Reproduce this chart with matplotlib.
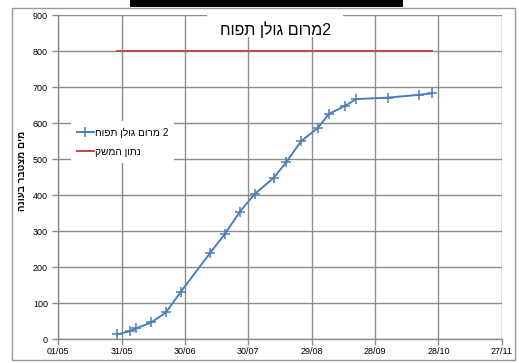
import datetime as dt
import matplotlib
matplotlib.use("Agg")
import matplotlib.pyplot as plt
import matplotlib.dates as mdates
from matplotlib.patches import Rectangle

plt.rcParams['font.family'] = ['Liberation Sans', 'DejaVu Sans']


def heb(s):
    # matplotlib lays glyphs out left to right, so hebrew strings go in reversed
    return s[::-1]


# weekly readings (day/month)
days = ["29/05", "04/06", "07/06", "14/06", "21/06", "28/06", "12/07", "19/07",
        "26/07", "02/08", "11/08", "17/08", "24/08", "01/09", "06/09", "14/09",
        "19/09", "04/10", "19/10", "25/10"]
water = [13, 22, 30, 46, 74, 131, 240, 293, 354, 403, 448, 492, 550, 587,
         625, 649, 667, 671, 679, 683]
farm_value = 800

title = "2מרום גולן תפוח"
series_name = "2 מרום גולן תפוח"
farm_name = "נתון המשק"
ylab = "מים מצטבר בעונה"

year = 2014
dates = [dt.datetime.strptime(d + "/%d" % year, "%d/%m/%Y") for d in days]
start = dt.datetime(year, 5, 1)
ticks = [start + dt.timedelta(days=30 * i) for i in range(8)]

blue = "#4A7EBB"
red = "#BE4B48"
grid = "#8C8C8C"

fig = plt.figure(figsize=(5.19, 3.63), dpi=100)
ax = fig.add_axes([0.1123, 0.0661, 0.8544, 0.8918])

ax.plot(dates, water, color=blue, lw=1.4, marker="+", ms=7, mew=1.1,
        label=heb(series_name), zorder=3)
ax.plot([dates[0], dates[-1]], [farm_value, farm_value], color=red, lw=1.4,
        label=heb(farm_name), zorder=3)

ax.set_xlim(ticks[0], ticks[-1])
ax.set_ylim(0, 900)
ax.set_xticks(ticks)
ax.xaxis.set_major_formatter(mdates.DateFormatter("%d/%m"))
ax.set_yticks(range(0, 901, 100))
ax.grid(True, color=grid, lw=1)
ax.set_axisbelow(True)
for side in ["top", "right"]:
    ax.spines[side].set_visible(False)
for side in ["left", "bottom"]:
    ax.spines[side].set_color(grid)
    ax.spines[side].set_linewidth(1)
ax.tick_params(colors=grid, labelcolor="black", labelsize=6.5, length=4, width=1)
ax.tick_params(axis="x", pad=2)

ax.set_ylabel(heb(ylab), fontsize=7, fontweight="bold", va="center")
ax.yaxis.set_label_coords(-0.082, 0.52)

# title sits on a white patch over the gridlines
ax.add_patch(Rectangle((0.335, 0.933), 0.307, 0.08, transform=ax.transAxes,
                       facecolor="white", edgecolor="none", zorder=4, clip_on=False))
ax.text(0.489, 0.956, heb(title), transform=ax.transAxes, ha="center", va="center",
        fontsize=11.5, zorder=5)

leg = ax.legend(loc="upper left", bbox_to_anchor=(0.028, 0.672), fontsize=7.3,
                frameon=True, fancybox=False, framealpha=1, edgecolor="none",
                handlelength=1.7, handletextpad=0.1, borderpad=0.6,
                labelspacing=0.9, borderaxespad=0)
leg.get_frame().set_facecolor("white")

# chart frame and the dark strip above it
fig.patches.append(Rectangle((12 / 519, 1 - 360 / 363), 503 / 519, 352 / 363,
                             transform=fig.transFigure, fill=False,
                             edgecolor="#9A9A9A", lw=1))
fig.patches.append(Rectangle((130 / 519, 1 - 7.3 / 363), 273 / 519, 7.3 / 363,
                             transform=fig.transFigure, facecolor="black",
                             edgecolor="none"))

fig.savefig("out.png", dpi=100)
